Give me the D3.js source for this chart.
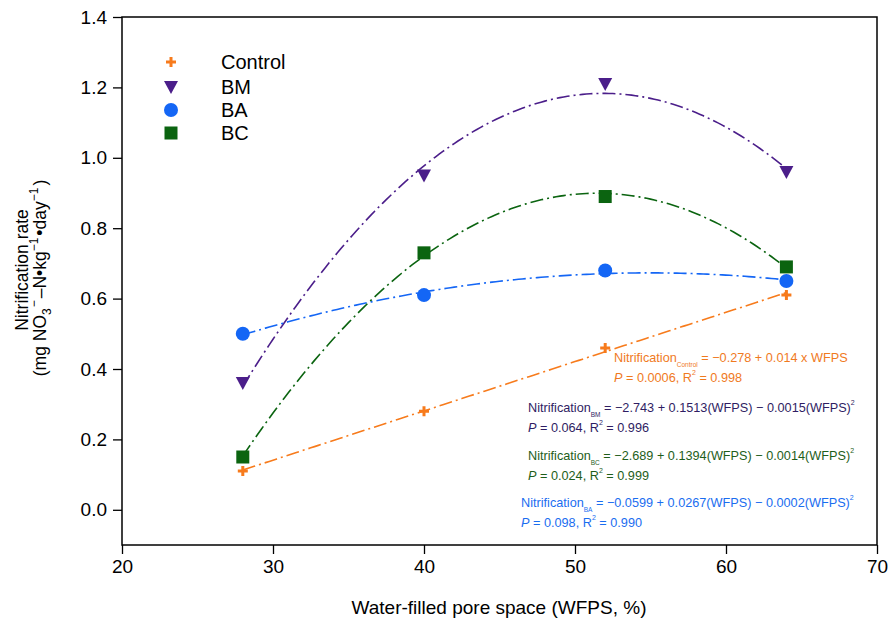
<!DOCTYPE html>
<html><head><meta charset="utf-8">
<script src="https://cdn.jsdelivr.net/npm/d3@7"></script>
<style>body{margin:0;background:#fff}svg{font-family:"Liberation Sans",Arial,sans-serif}</style>
</head><body><svg id="c" width="891" height="624"></svg>
<script>
const wfps = [28, 40, 52, 64];
const control = [0.11, 0.28, 0.46, 0.61];
const bm = [0.36, 0.95, 1.21, 0.96];
const ba = [0.50, 0.61, 0.68, 0.65];
const bc = [0.15, 0.73, 0.89, 0.69];
const xTicks = [20, 30, 40, 50, 60, 70];
const yTicks = [0.0, 0.2, 0.4, 0.6, 0.8, 1.0, 1.2, 1.4];
const seriesNames = ["Control", "BM", "BA", "BC"];
const colors = {Control: "#f77b1c", BM: "#4b1e8a", BA: "#1466f5", BC: "#0b6410"};
const textColors = {Control: "#f07a1e", BM: "#2f1d63", BA: "#1a6df0", BC: "#1e5e1a"};

const svg = d3.select("#c");
const L = 122, R = 877, T = 17, B = 545;
const x = d3.scaleLinear().domain([20, 70]).range([L, R]);
const y = d3.scaleLinear().domain([-0.1, 1.4]).range([B, T]);

// frame
svg.append("rect").attr("x", L).attr("y", T).attr("width", R - L).attr("height", B - T)
  .attr("fill", "none").attr("stroke", "#000").attr("stroke-width", 1.5);

const xa = svg.append("g").attr("transform", `translate(0,${B})`)
  .call(d3.axisBottom(x).tickValues(xTicks).tickSize(9).tickPadding(6).tickFormat(d3.format("d")));
const ya = svg.append("g").attr("transform", `translate(${L},0)`)
  .call(d3.axisLeft(y).tickValues(yTicks).tickSize(9).tickPadding(6).tickFormat(d3.format(".1f")));
[xa, ya].forEach(a => {
  a.select(".domain").remove();
  a.selectAll("line").attr("stroke", "#000").attr("stroke-width", 1.3);
  a.selectAll("text").attr("font-size", 19).attr("fill", "#000").attr("font-family", "Liberation Sans, Arial");
});

// polynomial least-squares fit
function polyfit(xs, ys, deg) {
  const n = deg + 1;
  const A = Array.from({length: n}, () => new Array(n + 1).fill(0));
  for (let i = 0; i < xs.length; i++) {
    for (let r = 0; r < n; r++) {
      for (let c = 0; c < n; c++) A[r][c] += Math.pow(xs[i], r + c);
      A[r][n] += ys[i] * Math.pow(xs[i], r);
    }
  }
  for (let i = 0; i < n; i++) {
    let p = i;
    for (let k = i + 1; k < n; k++) if (Math.abs(A[k][i]) > Math.abs(A[p][i])) p = k;
    [A[i], A[p]] = [A[p], A[i]];
    for (let k = 0; k < n; k++) if (k !== i) {
      const f = A[k][i] / A[i][i];
      for (let j = i; j <= n; j++) A[k][j] -= f * A[i][j];
    }
  }
  return A.map((row, i) => row[n] / row[i]);
}
const dataMap = {Control: control, BM: bm, BA: ba, BC: bc};
const degree = {Control: 1, BM: 2, BA: 2, BC: 2};
const line = d3.line().x(d => x(d[0])).y(d => y(d[1]));
seriesNames.forEach(name => {
  const coef = polyfit(wfps, dataMap[name], degree[name]);
  const xs = d3.range(wfps[0], wfps[wfps.length - 1] + 0.001, 0.25);
  const pts = xs.map(v => [v, coef.reduce((s, c, i) => s + c * Math.pow(v, i), 0)]);
  svg.append("path").datum(pts).attr("d", line).attr("fill", "none")
    .attr("stroke", colors[name]).attr("stroke-width", 1.6).attr("stroke-dasharray", "13,4,2,4");
});

function marker(g, name, cx, cy) {
  const c = colors[name];
  if (name === "Control") {
    g.append("path").attr("d", `M${cx-5},${cy}H${cx+5}M${cx},${cy-5}V${cy+5}`)
      .attr("stroke", c).attr("stroke-width", 3);
  } else if (name === "BM") {
    g.append("path").attr("d", `M${cx-7},${cy-6}L${cx+7},${cy-6}L${cx},${cy+7}Z`).attr("fill", c);
  } else if (name === "BA") {
    g.append("circle").attr("cx", cx).attr("cy", cy).attr("r", 7).attr("fill", c);
  } else {
    g.append("rect").attr("x", cx - 6.5).attr("y", cy - 6.5).attr("width", 13).attr("height", 13).attr("fill", c);
  }
}
const mg = svg.append("g");
["BM", "BC", "BA", "Control"].forEach(name => {
  dataMap[name].forEach((v, i) => marker(mg, name, x(wfps[i]), y(v)));
});

// legend
const legY = [62, 87, 110, 133];
seriesNames.forEach((name, i) => {
  marker(svg, name, 171, legY[i]);
  svg.append("text").attr("x", 221).attr("y", legY[i] + 7).attr("font-size", 20).text(name);
});

// axis titles
svg.append("text").attr("x", 499).attr("y", 614).attr("text-anchor", "middle").attr("font-size", 19)
  .text("Water-filled pore space (WFPS, %)");
const yt = svg.append("g").attr("transform", "translate(0,270) rotate(-90)");
yt.append("text").attr("x", 0).attr("y", 28).attr("text-anchor", "middle").attr("font-size", 17.5).text("Nitrification rate");
const t2 = yt.append("g").attr("transform", "translate(-8,0)")
  .append("text").attr("x", 0).attr("y", 46).attr("text-anchor", "middle").attr("font-size", 17.5);
t2.append("tspan").text("(mg NO");
t2.append("tspan").attr("font-size", 12).attr("dy", 5).text("3");
t2.append("tspan").attr("font-size", 12).attr("dy", -13).attr("dx", 1).text("−");
t2.append("tspan").attr("dy", 8).attr("dx", 2).text("–N•kg");
t2.append("tspan").attr("font-size", 12).attr("dy", -8).text("−1");
t2.append("tspan").attr("dy", 8).attr("dx", 2).text("•day");
t2.append("tspan").attr("font-size", 12).attr("dy", -8).text("−1");
t2.append("tspan").attr("dy", 8).attr("dx", 2).text(")");

// equations
const eqs = [
  {name: "Control", sub: "Control", x: 614, y: 362, rhs: " = −0.278 + 0.014 x WFPS", sq: false, p: "0.0006", r2: "0.998"},
  {name: "BM", sub: "BM", x: 528, y: 412, rhs: " = −2.743 + 0.1513(WFPS) − 0.0015(WFPS)", sq: true, p: "0.064", r2: "0.996"},
  {name: "BC", sub: "BC", x: 528, y: 460, rhs: " = −2.689 + 0.1394(WFPS) − 0.0014(WFPS)", sq: true, p: "0.024", r2: "0.999"},
  {name: "BA", sub: "BA", x: 521, y: 507, rhs: " = −0.0599 + 0.0267(WFPS) − 0.0002(WFPS)", sq: true, p: "0.098", r2: "0.990"}
];
eqs.forEach(e => {
  const g = svg.append("g").attr("fill", textColors[e.name]).attr("font-size", 12.7);
  const t = g.append("text").attr("x", e.x).attr("y", e.y);
  t.append("tspan").text("Nitrification");
  t.append("tspan").attr("font-size", 6.5).attr("dy", 5).text(e.sub);
  t.append("tspan").attr("dy", -5).text(e.rhs);
  if (e.sq) t.append("tspan").attr("font-size", 7).attr("dy", -7).text("2");
  const p = g.append("text").attr("x", e.x).attr("y", e.y + 20);
  p.append("tspan").attr("font-style", "italic").text("P");
  p.append("tspan").text(` = ${e.p}, R`);
  p.append("tspan").attr("font-size", 7).attr("dy", -7).text("2");
  p.append("tspan").attr("dy", 7).text(` = ${e.r2}`);
});
</script></body></html>
